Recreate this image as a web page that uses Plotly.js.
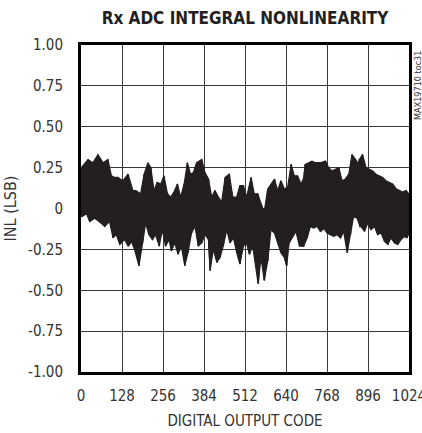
<!DOCTYPE html>
<html><head><meta charset="utf-8">
<script src="https://cdn.plot.ly/plotly-3.0.1.min.js"></script>
<style>html,body{margin:0;padding:0;background:#fff}#c{width:422px;height:433px}</style>
</head><body><div id="c"></div>
<script>
// Upper envelope readings (code, INL LSB)
const hiCodes = [1,22,37,53,69,84,95,105,115,131,147,162,
  171,186,197,209,218,228,238,249,259,270,280,290,301,311,322,332,342,
  351,361,377,387,398,408,418,429,439,450,463,474,486,496,507,517,
  531,541,552,562,572,583,593,604,614,624,635,645,656,666,676,687,696,
  700,711,721,732,747,763,773,784,794,805,815,825,836,846,857,867,
  869,879,890,900,911,921,931,942,952,963,973,984,994,1004,1015,1023];
const hiVals = [0.25,0.30,0.28,0.33,0.28,0.30,0.20,0.19,0.19,0.17,0.21,0.11,
  0.11,0.09,0.21,0.28,0.25,0.11,0.16,0.15,0.20,0.09,0.07,0.10,0.15,0.07,0.15,0.28,0.21,
  0.22,0.28,0.30,0.22,0.18,0.07,0.11,0.07,0.04,0.19,0.21,0.07,0.07,0.14,0.14,0.07,
  0.19,0.09,0.09,0.03,-0.02,0.12,0.15,0.18,0.11,0.17,0.12,0.13,0.27,0.20,0.20,0.15,0.19,
  0.27,0.28,0.29,0.28,0.28,0.29,0.25,0.23,0.24,0.25,0.17,0.18,0.21,0.33,0.30,0.27,
  0.30,0.33,0.25,0.24,0.23,0.21,0.20,0.19,0.17,0.16,0.15,0.12,0.11,0.10,0.11,0.09];
// Lower envelope readings (code, INL LSB)
const loCodes = [1,17,27,43,63,74,89,100,110,121,136,147,157,167,
  181,192,202,212,223,233,244,254,264,275,282,293,303,313,324,334,345,
  356,366,377,387,398,403,413,424,434,444,455,465,476,486,496,507,517,
  526,536,546,553,562,572,583,593,604,614,624,635,642,650,661,671,682,692,
  695,706,716,726,737,747,758,768,778,789,799,810,820,831,841,851,862,871,
  874,885,895,905,916,926,937,947,958,968,978,989,999,1010,1017,1023];
const loVals = [-0.05,-0.03,-0.08,-0.06,-0.09,-0.11,-0.08,-0.18,-0.16,-0.22,-0.19,-0.23,-0.20,-0.25,
  -0.35,-0.21,-0.09,-0.16,-0.19,-0.16,-0.23,-0.13,-0.23,-0.19,-0.26,-0.21,-0.28,-0.23,-0.35,-0.27,-0.15,
  -0.11,-0.23,-0.21,-0.16,-0.19,-0.38,-0.25,-0.33,-0.30,-0.23,-0.13,-0.21,-0.18,-0.27,-0.34,-0.23,-0.21,
  -0.28,-0.23,-0.35,-0.46,-0.30,-0.44,-0.32,-0.13,-0.15,-0.21,-0.27,-0.30,-0.35,-0.21,-0.17,-0.14,-0.23,-0.23,
  -0.23,-0.18,-0.11,-0.12,-0.11,-0.14,-0.12,-0.15,-0.16,-0.17,-0.16,-0.18,-0.14,-0.27,-0.16,-0.05,-0.06,-0.11,
  -0.11,-0.14,-0.09,-0.13,-0.11,-0.16,-0.15,-0.20,-0.22,-0.18,-0.21,-0.22,-0.19,-0.17,-0.18,-0.16];

const xTicks = [0,128,256,384,512,640,768,896,1024];
const yTicks = [1,0.75,0.5,0.25,0,-0.25,-0.5,-0.75,-1];
const yTickText = ['1.00','0.75','0.50','0.25','0','-0.25','-0.50','-0.75','-1.00'];

const ink = '#231f20';
// band: upper envelope forward, lower envelope backward
const band = {
  x: hiCodes.concat(loCodes.slice().reverse()),
  y: hiVals.concat(loVals.slice().reverse()),
  type: 'scatter', mode: 'lines', fill: 'toself', fillcolor: ink,
  line: {color: ink, width: 1.2}, hoverinfo: 'skip'
};
// zigzag through all readings for jagged texture
const pts = [];
hiCodes.forEach((c,i)=>pts.push([c,hiVals[i]]));
loCodes.forEach((c,i)=>pts.push([c+0.5,loVals[i]]));
pts.sort((a,b)=>a[0]-b[0]);
const zig = {
  x: pts.map(p=>p[0]), y: pts.map(p=>p[1]),
  type: 'scatter', mode: 'lines',
  line: {color: ink, width: 1.5}, hoverinfo: 'skip'
};

const font = 'DejaVu Sans Condensed, Liberation Sans Narrow, sans-serif';
const layout = {
  width: 422, height: 433,
  margin: {l: 81, r: 13, t: 45, b: 61},
  paper_bgcolor: '#fff', plot_bgcolor: '#fff',
  showlegend: false,
  title: {text: '<b>Rx ADC INTEGRAL NONLINEARITY</b>', xref: 'paper', x: 0.5, xanchor: 'center',
    yref: 'container', y: 0.958, yanchor: 'middle',
    font: {family: font, size: 17, color: ink}},
  xaxis: {range: [0,1024], tickvals: xTicks, ticktext: xTicks.map(String),
    showgrid: true, gridcolor: '#3a3a3a', gridwidth: 1, zeroline: false,
    showline: true, mirror: true, linecolor: '#000', linewidth: 3, ticks: '',
    ticklabeloverflow: 'allow', ticklabelstandoff: 8,
    tickfont: {family: font, size: 15, color: '#333'},
    title: {text: 'DIGITAL OUTPUT CODE', standoff: 12, font: {family: font, size: 15, color: '#333'}}},
  yaxis: {range: [-1,1], tickvals: yTicks, ticktext: yTickText,
    showgrid: true, gridcolor: '#3a3a3a', gridwidth: 1, zeroline: false,
    showline: true, mirror: true, linecolor: '#000', linewidth: 3, ticks: '',
    ticklabelstandoff: 12,
    tickfont: {family: font, size: 15, color: '#333'},
    title: {text: 'INL (LSB)', standoff: 8, font: {family: font, size: 16, color: '#333'}}},
  annotations: [{text: 'MAX19710 toc31', xref: 'paper', yref: 'paper', x: 1.0, xanchor: 'left', xshift: 2,
    y: 0.875, yanchor: 'middle', textangle: -90, showarrow: false,
    font: {family: font, size: 9, color: '#333'}}]
};
Plotly.newPlot('c', [band, zig], layout, {staticPlot: true, displayModeBar: false});
</script></body></html>
